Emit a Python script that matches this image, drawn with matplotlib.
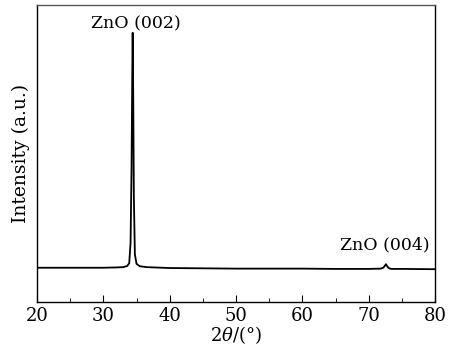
import matplotlib.pyplot as plt
from matplotlib.ticker import MultipleLocator

plt.rcParams['font.family'] = 'DejaVu Serif'
plt.rcParams['mathtext.fontset'] = 'dejavuserif'

# XRD pattern (intensity in arbitrary units)
two_theta = [20, 25, 30, 32, 33, 33.6, 33.9, 34.1, 34.25, 34.35, 34.42, 34.5, 34.6,
             34.75, 35.0, 35.5, 36.5, 40, 45, 50, 55, 60, 65, 70, 71.8, 72.2,
             72.45, 72.6, 72.75, 73.0, 73.4, 75, 80]
intensity = [0.115, 0.115, 0.115, 0.116, 0.117, 0.121, 0.13, 0.2, 0.45, 0.75, 0.906, 0.7, 0.35,
             0.16, 0.128, 0.12, 0.117, 0.114, 0.113, 0.112, 0.112, 0.112, 0.111, 0.111, 0.112, 0.115,
             0.122, 0.127, 0.121, 0.114, 0.111, 0.111, 0.110]

peak_labels = ['ZnO (002)', 'ZnO (004)']
peak_pos = [34.9, 72.4]
peak_y = [0.935, 0.192]

fig = plt.figure(figsize=(4.57, 3.49), dpi=100)
ax = fig.add_axes([0.081, 0.135, 0.871, 0.851])
ax.plot(two_theta, intensity, color='black', lw=1.3)

for lab, x, y in zip(peak_labels, peak_pos, peak_y):
    ax.text(x, y, lab, ha='center', va='center', fontsize=12.5)

ax.set_xlim(20, 80)
ax.set_ylim(0, 1)
ax.xaxis.set_major_locator(MultipleLocator(10))
ax.xaxis.set_minor_locator(MultipleLocator(5))
ax.tick_params(axis='x', which='both', direction='in', labelsize=13, pad=4)
ax.tick_params(axis='x', which='major', length=5)
ax.tick_params(axis='x', which='minor', length=3)
ax.set_yticks([])
for s in ax.spines.values():
    s.set_linewidth(1.0)
ax.spines['top'].set_color('#555555')

ax.set_xlabel(r'2$\theta$/(°)', fontsize=13, labelpad=-1)
ax.set_ylabel('Intensity (a.u.)', fontsize=13.5, labelpad=5)

fig.savefig('out.png', dpi=100)
